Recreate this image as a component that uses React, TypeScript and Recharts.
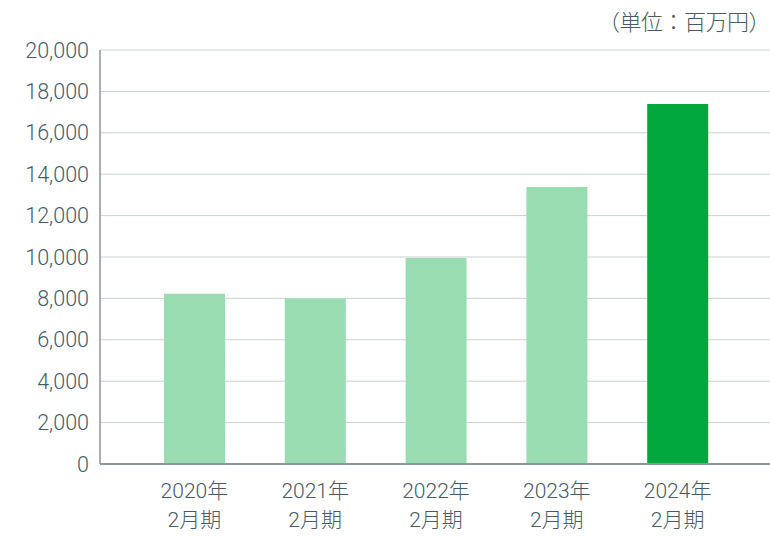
import { BarChart, Bar, XAxis, YAxis, CartesianGrid, Cell } from 'recharts';

const years = ['2020年', '2021年', '2022年', '2023年', '2024年'];
const periodLabel = '2月期';
const sales = [8230, 7990, 9950, 13380, 17390];
const yTicks = [0, 2000, 4000, 6000, 8000, 10000, 12000, 14000, 16000, 18000, 20000];
const unitText = '（単位：百万円）';

const LIGHT = '#9adcb1';
const DARK = '#00a73c';
const TEXT = '#465b66';

const data = years.map((y, i) => ({ name: y, value: sales[i] }));

const XTick = ({ x, y, payload }: any) => (
    <g transform={`translate(${x},${y})`}>
        <text x={0} y={26} textAnchor="middle" fill={TEXT} fontSize={21}>
            {payload.value}
        </text>
        <text x={0} y={55} textAnchor="middle" fill={TEXT} fontSize={21}>
            {periodLabel}
        </text>
    </g>
);

export default function App() {
    return (
        <div style={{ position: 'absolute', left: 0, top: 0, width: 770, height: 536, fontFamily: 'Roboto, "Noto Sans CJK JP", sans-serif', fontWeight: 300 }}>
            <div style={{ position: 'absolute', right: 0, top: 4, fontSize: 22, letterSpacing: -0.5, color: TEXT, fontFamily: '"Noto Sans CJK JP", sans-serif', fontWeight: 300, whiteSpace: 'nowrap' }}>
                {unitText}
            </div>
            <BarChart
                width={770}
                height={536}
                data={data}
                margin={{ top: 50, right: 0, left: 0, bottom: 0 }}
            >
                <CartesianGrid vertical={false} stroke="#c9d1d4" />
                <XAxis
                    dataKey="name"
                    height={72}
                    padding={{ left: 34, right: 32 }}
                    tickLine={false}
                    axisLine={{ stroke: '#8a979d', strokeWidth: 2 }}
                    tick={<XTick />}
                    interval={0}
                />
                <YAxis
                    width={100}
                    domain={[0, 20000]}
                    ticks={yTicks}
                    tickLine={false}
                    axisLine={{ stroke: '#8a979d', strokeWidth: 1.5 }}
                    tick={{ fill: TEXT, fontSize: 21.5 }}
                    tickMargin={5}
                    tickFormatter={(v) => v.toLocaleString('en-US')}
                />
                <Bar dataKey="value" barSize={61} isAnimationActive={false}>
                    {data.map((d, i) => (
                        <Cell key={d.name} fill={i === data.length - 1 ? DARK : LIGHT} />
                    ))}
                </Bar>
            </BarChart>
        </div>
    );
}
